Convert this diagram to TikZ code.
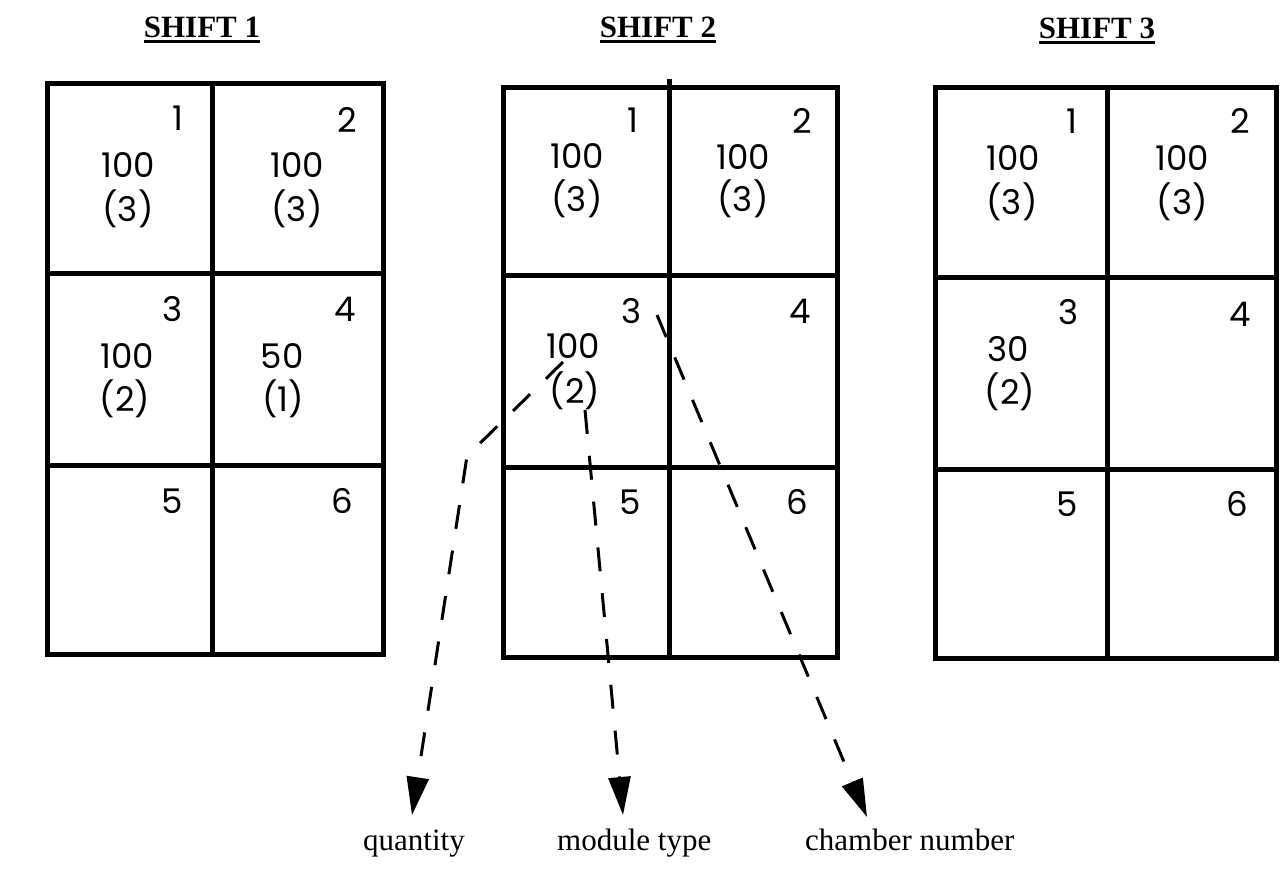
\documentclass[tikz,border=0pt]{standalone}
\usepackage{fontspec}
\setmainfont{Liberation Serif}
\newfontfamily\gfont{Poppins}
\usetikzlibrary{arrows.meta}
\begin{document}
\begin{tikzpicture}[x=1pt,y=-1pt,
  gridline/.style={line width=5pt, line cap=rect},
  num/.style={font=\gfont\fontsize{34}{34}\selectfont, anchor=base, inner sep=0pt},
  lbl/.style={font=\fontsize{31}{31}\selectfont, anchor=base west, inner sep=0pt},
  ttl/.style={font=\bfseries\fontsize{31}{31}\selectfont, anchor=base, inner sep=0pt},
  uline/.style={line width=3pt},
  arr/.style={line width=3pt, dash pattern=on 24pt off 22pt, -{Triangle[length=38pt,width=22pt]}},
]
\useasboundingbox (0,0) rectangle (1285,872);

% titles
\node[ttl] (t1) at (202,38) {SHIFT 1};
\node[ttl] (t2) at (658,38) {SHIFT 2};
\node[ttl] (t3) at (1097,39) {SHIFT 3};
\foreach \t in {t1,t2,t3}{
  \draw[uline] ([yshift=-4pt]\t.base west) -- ([yshift=-4pt]\t.base east);
}

% grid 1
\draw[gridline] (47,84) rectangle (383,654);
\draw[gridline] (212,84) -- (212,654);
\draw[gridline] (47,273) -- (383,273);
\draw[gridline] (47,465) -- (383,465);

% grid 2
\draw[gridline] (503,88) rectangle (837,657);
\draw[gridline] (669,82) -- (669,657);
\draw[gridline] (503,275) -- (837,275);
\draw[gridline] (503,467) -- (837,467);

% grid 3
\draw[gridline] (935,88) rectangle (1276,658);
\draw[gridline] (1107,88) -- (1107,658);
\draw[gridline] (935,277) -- (1276,277);
\draw[gridline] (935,469) -- (1276,469);

% grid 1 texts
\node[num] (a1) at (178,131) {1};
\node[num] (a2) at (347,133) {2};
\node[num] (a1q) at (128,178) {100};
\node[num] (a1t) at (128,221) {(3)};
\node[num] (a2q) at (297,178) {100};
\node[num] (a2t) at (297,221) {(3)};
\node[num] (a3) at (173,321) {3};
\node[num] (a4) at (345,321) {4};
\node[num] (a3q) at (127,368) {100};
\node[num] (a3t) at (125,411) {(2)};
\node[num] (a4q) at (282,368) {50};
\node[num] (a4t) at (283,411) {(1)};
\node[num] (a5) at (172,513) {5};
\node[num] (a6) at (342,513) {6};

% grid 2 texts
\node[num] (b1) at (633,133) {1};
\node[num] (b2) at (802,134) {2};
\node[num] (b1q) at (577,168) {100};
\node[num] (b1t) at (577,211) {(3)};
\node[num] (b2q) at (743,169) {100};
\node[num] (b2t) at (743,211) {(3)};
\node[num] (b3) at (632,323) {3};
\node[num] (b4) at (800,323) {4};
\node[num] (b3q) at (573,358) {100};
\node[num] (b3t) at (575,403) {(2)};
\node[num] (b5) at (630,514) {5};
\node[num] (b6) at (797,514) {6};

% grid 3 texts
\node[num] (c1) at (1072,134) {1};
\node[num] (c2) at (1240,134) {2};
\node[num] (c1q) at (1013,171) {100};
\node[num] (c1t) at (1012,214) {(3)};
\node[num] (c2q) at (1182,171) {100};
\node[num] (c2t) at (1182,214) {(3)};
\node[num] (c3) at (1068,324) {3};
\node[num] (c4) at (1240,326) {4};
\node[num] (c3q) at (1008,361) {30};
\node[num] (c3t) at (1010,404) {(2)};
\node[num] (c5) at (1067,516) {5};
\node[num] (c6) at (1237,516) {6};

% labels
\node[lbl] (lq) at (363,850) {quantity};
\node[lbl] (lm) at (557,850) {module type};
\node[lbl] (lc) at (805,850) {chamber number};

% connector points
\coordinate (qs) at (563,362);
\coordinate (qc) at (467,456);
\coordinate (qtip) at (412,815);
\coordinate (ms) at (585,410);
\coordinate (mtip) at (623,815);
\coordinate (cs) at (657,315);
\coordinate (ctip) at (867,817);

\draw[arr] (qs) -- (qc) -- (qtip);
\draw[arr] (ms) -- (mtip);
\draw[arr] (cs) -- (ctip);
\end{tikzpicture}
\end{document}
